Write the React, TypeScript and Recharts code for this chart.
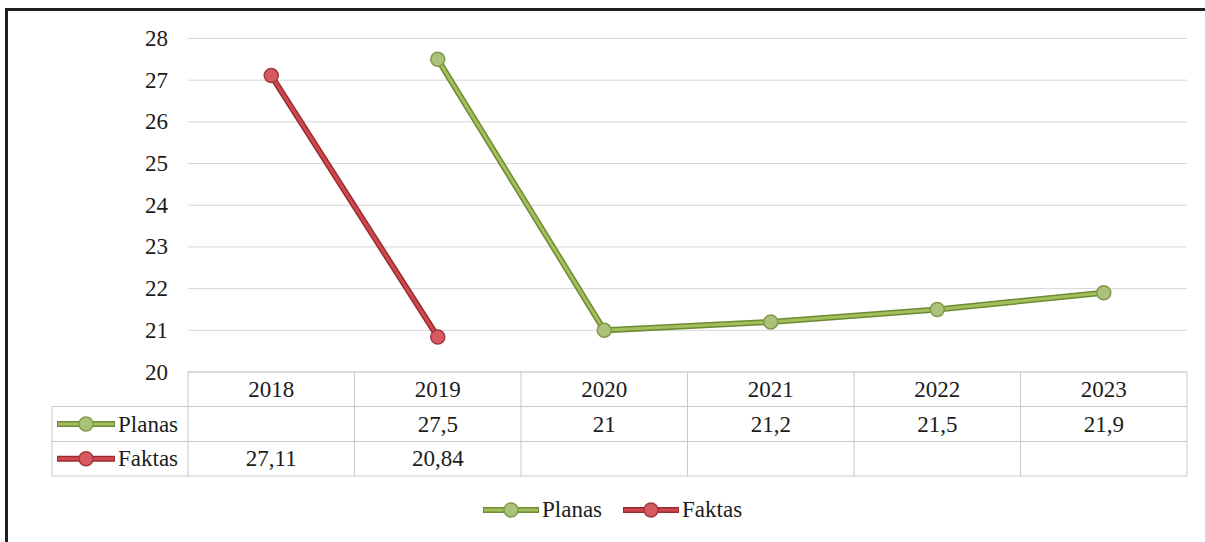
import React from 'react';
import { LineChart, Line, XAxis, YAxis, CartesianGrid } from 'recharts';

const years = ['2018', '2019', '2020', '2021', '2022', '2023'];
const planas: (number | null)[] = [null, 27.5, 21, 21.2, 21.5, 21.9];
const faktas: (number | null)[] = [27.11, 20.84, null, null, null, null];
const yTicks = [20, 21, 22, 23, 24, 25, 26, 27, 28];
const seriesNames = ['Planas', 'Faktas'];

const data = years.map((y, i) => ({ year: y, Planas: planas[i], Faktas: faktas[i] }));

const W = 1205;
const H = 542;
const MARGIN = { top: 38.5, right: 18, left: 88, bottom: 60 };
const Y_AXIS_W = 100;
const X_AXIS_H = 110;
const PLOT_W = W - MARGIN.left - MARGIN.right - Y_AXIS_W;
const COL_W = PLOT_W / years.length;
const ROW_H = [34.5, 35, 34.5];
const KEY_COL_W = 136;

const FONT = "'Liberation Serif'";
const TEXT = '#1c1c1c';
const GRID = '#d6d6d6';
const TABLE = '#c9c9c9';

const GREEN = { core: '#a3bf5c', edge: '#6e8a34', dot: '#abc27a', dotEdge: '#7f9a4c' };
const RED = { core: '#d2474e', edge: '#962c31', dot: '#d65a60', dotEdge: '#a23a3e' };

const fmt = (v: number | null) => (v == null ? '' : String(v).replace('.', ','));

const KeyIcon = ({ x, y, c, w = 58 }: { x: number; y: number; c: typeof GREEN; w?: number }) => (
  <g>
    <line x1={x} y1={y} x2={x + w} y2={y} stroke={c.edge} strokeWidth={6} />
    <line x1={x + 1} y1={y} x2={x + w - 1} y2={y} stroke={c.core} strokeWidth={3} />
    <circle cx={x + w / 2} cy={y} r={7} fill={c.dot} stroke={c.dotEdge} strokeWidth={1.5} />
  </g>
);

const txtStyle: React.CSSProperties = { fontFamily: FONT, fontSize: 23, fill: TEXT };

const YTick = (props: any) => {
  const { x, y, payload } = props;
  return (
    <text x={x} y={y} textAnchor="end" dominantBaseline="central" style={txtStyle}>
      {payload.value}
    </text>
  );
};

const TableTick = (props: any) => {
  const { x, y, payload } = props;
  const i: number = payload.index ?? props.index;
  const left = x - COL_W / 2;
  const right = x + COL_W / 2;
  const r1 = y + ROW_H[0];
  const r2 = r1 + ROW_H[1];
  const r3 = r2 + ROW_H[2];
  return (
    <g>
      <line x1={left} y1={y} x2={right} y2={y} stroke={TABLE} />
      <line x1={left} y1={r1} x2={right} y2={r1} stroke={TABLE} />
      <line x1={left} y1={r2} x2={right} y2={r2} stroke={TABLE} />
      <line x1={left} y1={r3} x2={right} y2={r3} stroke={TABLE} />
      <line x1={right} y1={y} x2={right} y2={r3} stroke={TABLE} />
      {i === 0 && (
        <g>
          <line x1={left} y1={y} x2={left} y2={r3} stroke={TABLE} />
          <line x1={left - KEY_COL_W} y1={r1} x2={left} y2={r1} stroke={TABLE} />
          <line x1={left - KEY_COL_W} y1={r2} x2={left} y2={r2} stroke={TABLE} />
          <line x1={left - KEY_COL_W} y1={r3} x2={left} y2={r3} stroke={TABLE} />
          <line x1={left - KEY_COL_W} y1={r1} x2={left - KEY_COL_W} y2={r3} stroke={TABLE} />
          <KeyIcon x={left - KEY_COL_W + 5} y={(r1 + r2) / 2} c={GREEN} />
          <text x={left - KEY_COL_W + 66} y={(r1 + r2) / 2} dominantBaseline="central" style={txtStyle}>{seriesNames[0]}</text>
          <KeyIcon x={left - KEY_COL_W + 5} y={(r2 + r3) / 2} c={RED} />
          <text x={left - KEY_COL_W + 66} y={(r2 + r3) / 2} dominantBaseline="central" style={txtStyle}>{seriesNames[1]}</text>
        </g>
      )}
      <text x={x} y={(y + r1) / 2} textAnchor="middle" dominantBaseline="central" style={txtStyle}>{payload.value}</text>
      <text x={x} y={(r1 + r2) / 2} textAnchor="middle" dominantBaseline="central" style={txtStyle}>{fmt(planas[i])}</text>
      <text x={x} y={(r2 + r3) / 2} textAnchor="middle" dominantBaseline="central" style={txtStyle}>{fmt(faktas[i])}</text>
    </g>
  );
};

const LegendItem = ({ name, c }: { name: string; c: typeof GREEN }) => (
  <div style={{ display: 'flex', alignItems: 'center' }}>
    <svg width={58} height={18} style={{ display: 'block' }}>
      <KeyIcon x={1} y={9} c={c} w={56} />
    </svg>
    <span style={{ fontFamily: FONT, fontSize: 23, color: TEXT, marginLeft: 2, lineHeight: '26px' }}>{name}</span>
  </div>
);

export default function App() {
  return (
    <div style={{ position: 'absolute', left: 0, top: 0, width: W, height: H, overflow: 'hidden', background: '#fff' }}>
      <div
        style={{
          position: 'absolute',
          left: 5,
          top: 8,
          width: 1400,
          height: 800,
          borderLeft: '3px solid #1e1e1e',
          borderTop: '3px solid #1e1e1e',
        }}
      />
      <div style={{ position: 'absolute', left: 0, top: 0 }}>
        <LineChart width={W} height={H} data={data} margin={MARGIN}>
          <CartesianGrid vertical={false} stroke={GRID} />
          <XAxis
            dataKey="year"
            scale="band"
            height={X_AXIS_H}
            axisLine={false}
            tickLine={false}
            tickSize={0}
            tickMargin={0}
            interval={0}
            tick={<TableTick />}
          />
          <YAxis
            width={Y_AXIS_W}
            domain={[20, 28]}
            ticks={yTicks}
            axisLine={false}
            tickLine={false}
            tickSize={0}
            tickMargin={20}
            tick={<YTick />}
          />
          <Line dataKey="Planas" stroke={GREEN.edge} strokeWidth={6} dot={false} isAnimationActive={false} legendType="none" />
          <Line dataKey="Faktas" stroke={RED.edge} strokeWidth={6} dot={false} isAnimationActive={false} legendType="none" />
          <Line
            dataKey="Planas"
            stroke={GREEN.core}
            strokeWidth={3}
            dot={{ r: 7, fill: GREEN.dot, stroke: GREEN.dotEdge, strokeWidth: 1.5 }}
            isAnimationActive={false}
          />
          <Line
            dataKey="Faktas"
            stroke={RED.core}
            strokeWidth={3}
            dot={{ r: 7, fill: RED.dot, stroke: RED.dotEdge, strokeWidth: 1.5 }}
            isAnimationActive={false}
          />
        </LineChart>
      </div>
      <div style={{ position: 'absolute', left: 482, top: 497, display: 'flex', alignItems: 'center', gap: 20 }}>
        <LegendItem name={seriesNames[0]} c={GREEN} />
        <LegendItem name={seriesNames[1]} c={RED} />
      </div>
    </div>
  );
}
